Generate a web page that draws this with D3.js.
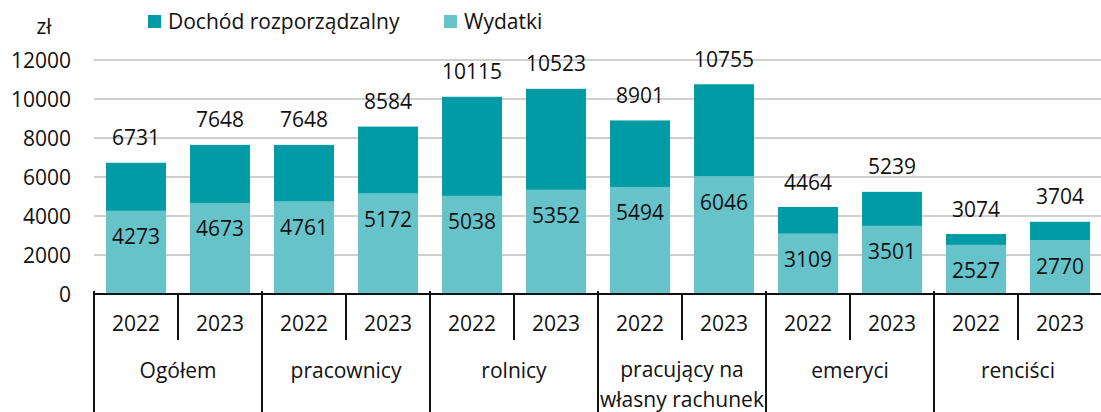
<!DOCTYPE html>
<html><head><meta charset="utf-8">
<script src="https://cdn.jsdelivr.net/npm/d3@7"></script>
<style>body{margin:0;background:#fff}svg{display:block}text{font-family:"Open Sans","Noto Sans",sans-serif;fill:#111}</style>
</head><body><svg id="c" width="1101" height="412"></svg>
<script>
const groups = [["Ogółem"],["pracownicy"],["rolnicy"],["pracujący na","własny rachunek"],["emeryci"],["renciści"]];
const years = ["2022","2023"];
const dochod = [6731,7648,7648,8584,10115,10523,8901,10755,4464,5239,3074,3704];
const wydatki = [4273,4673,4761,5172,5038,5352,5494,6046,3109,3501,2527,2770];
const yTicks = [0,2000,4000,6000,8000,10000,12000];
const seriesNames = ["Dochód rozporządzalny","Wydatki"];
const colors = ["#009ba5","#66c3ca"];

const svg = d3.select("#c");
const L=94, R=1102, T=60, B=294;
const y = d3.scaleLinear().domain([0,12000]).range([B,T]);
const keys = [];
groups.forEach((g,i)=>years.forEach(yr=>keys.push(i+"-"+yr)));
const x = d3.scaleBand().domain(keys).range([L,R]).paddingInner(0.2857).paddingOuter(0.1428);
const gx = d3.scaleBand().domain(groups.map((g,i)=>i)).range([L,R]);
const fs = 21;

// gridlines
svg.append("g").selectAll("line").data(yTicks.filter(d=>d>0)).join("line")
  .attr("x1",L).attr("x2",R).attr("y1",d=>y(d)).attr("y2",d=>y(d))
  .attr("stroke","#bfbfbf").attr("stroke-width",1.5);
// y labels
svg.append("g").selectAll("text").data(yTicks).join("text")
  .attr("x",71).attr("y",d=>y(d)).attr("dy","0.36em").attr("text-anchor","end")
  .attr("font-size",fs).text(d=>d);
svg.append("text").attr("x",44).attr("y",26).attr("dy","0.36em").attr("text-anchor","middle").attr("font-size",fs).text("zł");

// bars
svg.append("g").selectAll("rect").data(dochod).join("rect")
  .attr("x",(d,i)=>x(keys[i])).attr("width",x.bandwidth())
  .attr("y",d=>y(d)).attr("height",d=>B-y(d)).attr("fill",colors[0]);
svg.append("g").selectAll("rect").data(wydatki).join("rect")
  .attr("x",(d,i)=>x(keys[i])).attr("width",x.bandwidth())
  .attr("y",d=>y(d)).attr("height",d=>B-y(d)).attr("fill",colors[1]);
// labels
svg.append("g").selectAll("text").data(dochod).join("text")
  .attr("x",(d,i)=>x(keys[i])+x.bandwidth()/2).attr("y",d=>y(d)-25).attr("dy","0.36em")
  .attr("text-anchor","middle").attr("font-size",fs).text(d=>d);
svg.append("g").selectAll("text").data(wydatki).join("text")
  .attr("x",(d,i)=>x(keys[i])+x.bandwidth()/2).attr("y",d=>y(d)+26).attr("dy","0.36em")
  .attr("text-anchor","middle").attr("font-size",fs).text(d=>d);

// axis
const ax = svg.append("g").attr("stroke","#111").attr("stroke-width",2);
ax.append("line").attr("x1",L).attr("x2",R).attr("y1",B).attr("y2",B);
groups.forEach((g,i)=>{
  const gx0 = gx(i);
  ax.append("line").attr("x1",gx0).attr("x2",gx0).attr("y1",B-3).attr("y2",412);
  const mid = gx0+gx.bandwidth()/2;
  ax.append("line").attr("x1",mid).attr("x2",mid).attr("y1",B).attr("y2",340);
});
// year labels
svg.append("g").selectAll("text").data(keys).join("text")
  .attr("x",d=>x(d)+x.bandwidth()/2).attr("y",323).attr("dy","0.36em")
  .attr("text-anchor","middle").attr("font-size",fs).text(d=>d.split("-")[1]);
// group labels
groups.forEach((g,i)=>{
  const t = svg.append("text").attr("x",gx(i)+gx.bandwidth()/2).attr("text-anchor","middle").attr("font-size",fs);
  if(g.length===1){ t.attr("y",370).attr("dy","0.36em").text(g[0]); }
  else { g.forEach((s,j)=>t.append("tspan").attr("x",gx(i)+gx.bandwidth()/2).attr("y",369+j*30).attr("dy","0.36em").text(s)); }
});

// legend
const lg = [{name:seriesNames[0],c:colors[0],x:148},{name:seriesNames[1],c:colors[1],x:444}];
lg.forEach(l=>{
  svg.append("rect").attr("x",l.x).attr("y",15).attr("width",13).attr("height",13).attr("fill",l.c);
  svg.append("text").attr("x",l.x+20).attr("y",21).attr("dy","0.36em").attr("font-size",fs).text(l.name);
});
</script></body></html>
